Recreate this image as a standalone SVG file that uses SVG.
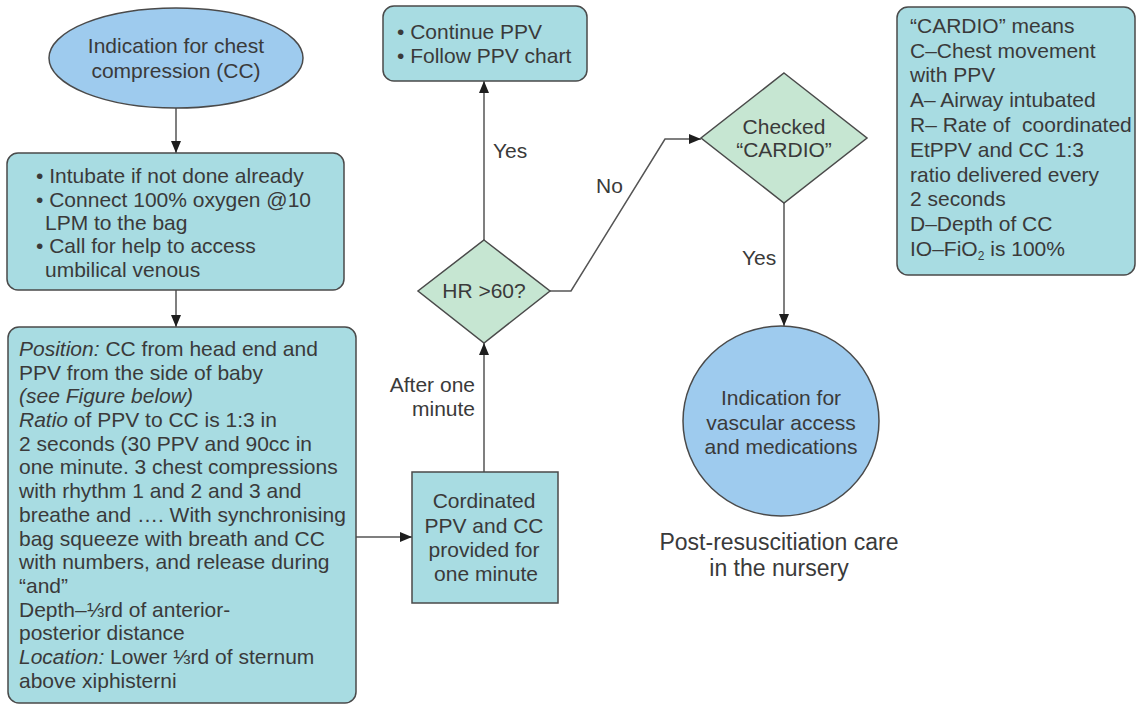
<svg xmlns="http://www.w3.org/2000/svg" width="1137" height="705" viewBox="0 0 1137 705">
  <style>
    text { font-family: "Liberation Sans", Arial, sans-serif; font-size: 21px; fill: #3a3a3a; }
    .box { fill: #a8dce2; stroke: #4a4a4a; stroke-width: 1.5; }
    .oval { fill: #9ecbee; stroke: #4a4a4a; stroke-width: 1.5; }
    .dec { fill: #c6e6d2; stroke: #4a4a4a; stroke-width: 1.5; }
    .mid { text-anchor: middle; }
    .end { text-anchor: end; }
    .it { font-style: italic; }
    .big { font-size: 23px; }
    .edge { fill: none; stroke: #555; stroke-width: 1.5; }
  </style>
  <defs>
    <marker id="arrow" viewBox="0 0 12 10" refX="12" refY="5" markerWidth="12" markerHeight="10" markerUnits="userSpaceOnUse" orient="auto">
      <path d="M0,0 L12,5 L0,10 Z" fill="#1e1e1e"/>
    </marker>
  </defs>

  <g id="connectors">
    <line class="edge" x1="176" y1="108" x2="176" y2="153" marker-end="url(#arrow)"/>
    <line class="edge" x1="176" y1="290" x2="176" y2="327" marker-end="url(#arrow)"/>
    <line class="edge" x1="356" y1="537" x2="412" y2="537" marker-end="url(#arrow)"/>
    <line class="edge" x1="484" y1="472" x2="484" y2="343" marker-end="url(#arrow)"/>
    <line class="edge" x1="484" y1="240" x2="484" y2="81" marker-end="url(#arrow)"/>
    <polyline class="edge" points="550,291 571,291 665,139 701,139" marker-end="url(#arrow)"/>
    <line class="edge" x1="784" y1="203" x2="784" y2="326" marker-end="url(#arrow)"/>
    <text x="493" y="158">Yes</text>
    <text x="596" y="193">No</text>
    <text x="742" y="265">Yes</text>
    <text class="end" x="475" y="392">After one</text>
    <text class="end" x="475" y="416">minute</text>
  </g>

  <g id="start">
    <ellipse class="oval" cx="176" cy="58" rx="127" ry="50"/>
    <text class="mid" x="176" y="53">Indication for chest</text>
    <text class="mid" x="176" y="78">compression (CC)</text>
  </g>

  <g id="prepare">
    <rect class="box" x="7" y="153" width="337" height="137" rx="11"/>
    <text x="36" y="183">• Intubate if not done already</text>
    <text x="36" y="207">• Connect 100% oxygen @10</text>
    <text x="45" y="230">LPM to the bag</text>
    <text x="36" y="253">• Call for help to access</text>
    <text x="45" y="277">umbilical venous</text>
  </g>

  <g id="technique">
    <rect class="box" x="8" y="327" width="348" height="376" rx="11"/>
    <text x="19" y="356"><tspan class="it">Position:</tspan> CC from head end and</text>
    <text x="19" y="380">PPV from the side of baby</text>
    <text x="19" y="403" class="it">(see Figure below)</text>
    <text x="19" y="427"><tspan class="it">Ratio</tspan> of PPV to CC is 1:3 in</text>
    <text x="19" y="451">2 seconds (30 PPV and 90cc in</text>
    <text x="19" y="474">one minute. 3 chest compressions</text>
    <text x="19" y="498">with rhythm 1 and 2 and 3 and</text>
    <text x="19" y="522">breathe and …. With synchronising</text>
    <text x="19" y="546">bag squeeze with breath and CC</text>
    <text x="19" y="569">with numbers, and release during</text>
    <text x="19" y="593">“and”</text>
    <text x="19" y="617">Depth–⅓rd of anterior-</text>
    <text x="19" y="640">posterior distance</text>
    <text x="19" y="664"><tspan class="it">Location:</tspan> Lower ⅓rd of sternum</text>
    <text x="19" y="688">above xiphisterni</text>
  </g>

  <g id="coordinated">
    <rect class="box" x="412" y="472" width="146" height="131"/>
    <text class="mid" x="484" y="508">Cordinated</text>
    <text class="mid" x="484" y="533">PPV and CC</text>
    <text class="mid" x="484" y="557">provided for</text>
    <text class="mid" x="486" y="581">one minute</text>
  </g>

  <g id="hr-check">
    <polygon class="dec" points="484,240 550,291 484,343 418,291"/>
    <text class="mid" x="484" y="298">HR &gt;60?</text>
  </g>

  <g id="continue-ppv">
    <rect class="box" x="383" y="6" width="204" height="75" rx="11"/>
    <text x="397" y="39">• Continue PPV</text>
    <text x="397" y="63">• Follow PPV chart</text>
  </g>

  <g id="cardio-check">
    <polygon class="dec" points="784,73 867,138 784,203 701,138"/>
    <text class="mid" x="784" y="134">Checked</text>
    <text class="mid" x="784" y="157">“CARDIO”</text>
  </g>

  <g id="vascular">
    <ellipse class="oval" cx="781" cy="421" rx="98" ry="95"/>
    <text class="mid" x="781" y="405">Indication for</text>
    <text class="mid" x="781" y="430">vascular access</text>
    <text class="mid" x="781" y="454">and medications</text>
  </g>

  <g id="post-care">
    <text class="mid big" x="779" y="550">Post-resuscitiation care</text>
    <text class="mid big" x="779" y="576">in the nursery</text>
  </g>

  <g id="cardio-legend">
    <rect class="box" x="897" y="7" width="238" height="268" rx="11"/>
    <text x="910" y="33">“CARDIO” means</text>
    <text x="910" y="58">C–Chest movement</text>
    <text x="910" y="82">with PPV</text>
    <text x="910" y="107">A– Airway intubated</text>
    <text x="910" y="132" xml:space="preserve">R– Rate of  coordinated</text>
    <text x="910" y="157">EtPPV and CC 1:3</text>
    <text x="910" y="182">ratio delivered every</text>
    <text x="910" y="206">2 seconds</text>
    <text x="910" y="231">D–Depth of CC</text>
    <text x="910" y="256">IO–FiO<tspan style="font-size:12px" dy="4">2</tspan><tspan dy="-4"> is 100%</tspan></text>
  </g>
</svg>
